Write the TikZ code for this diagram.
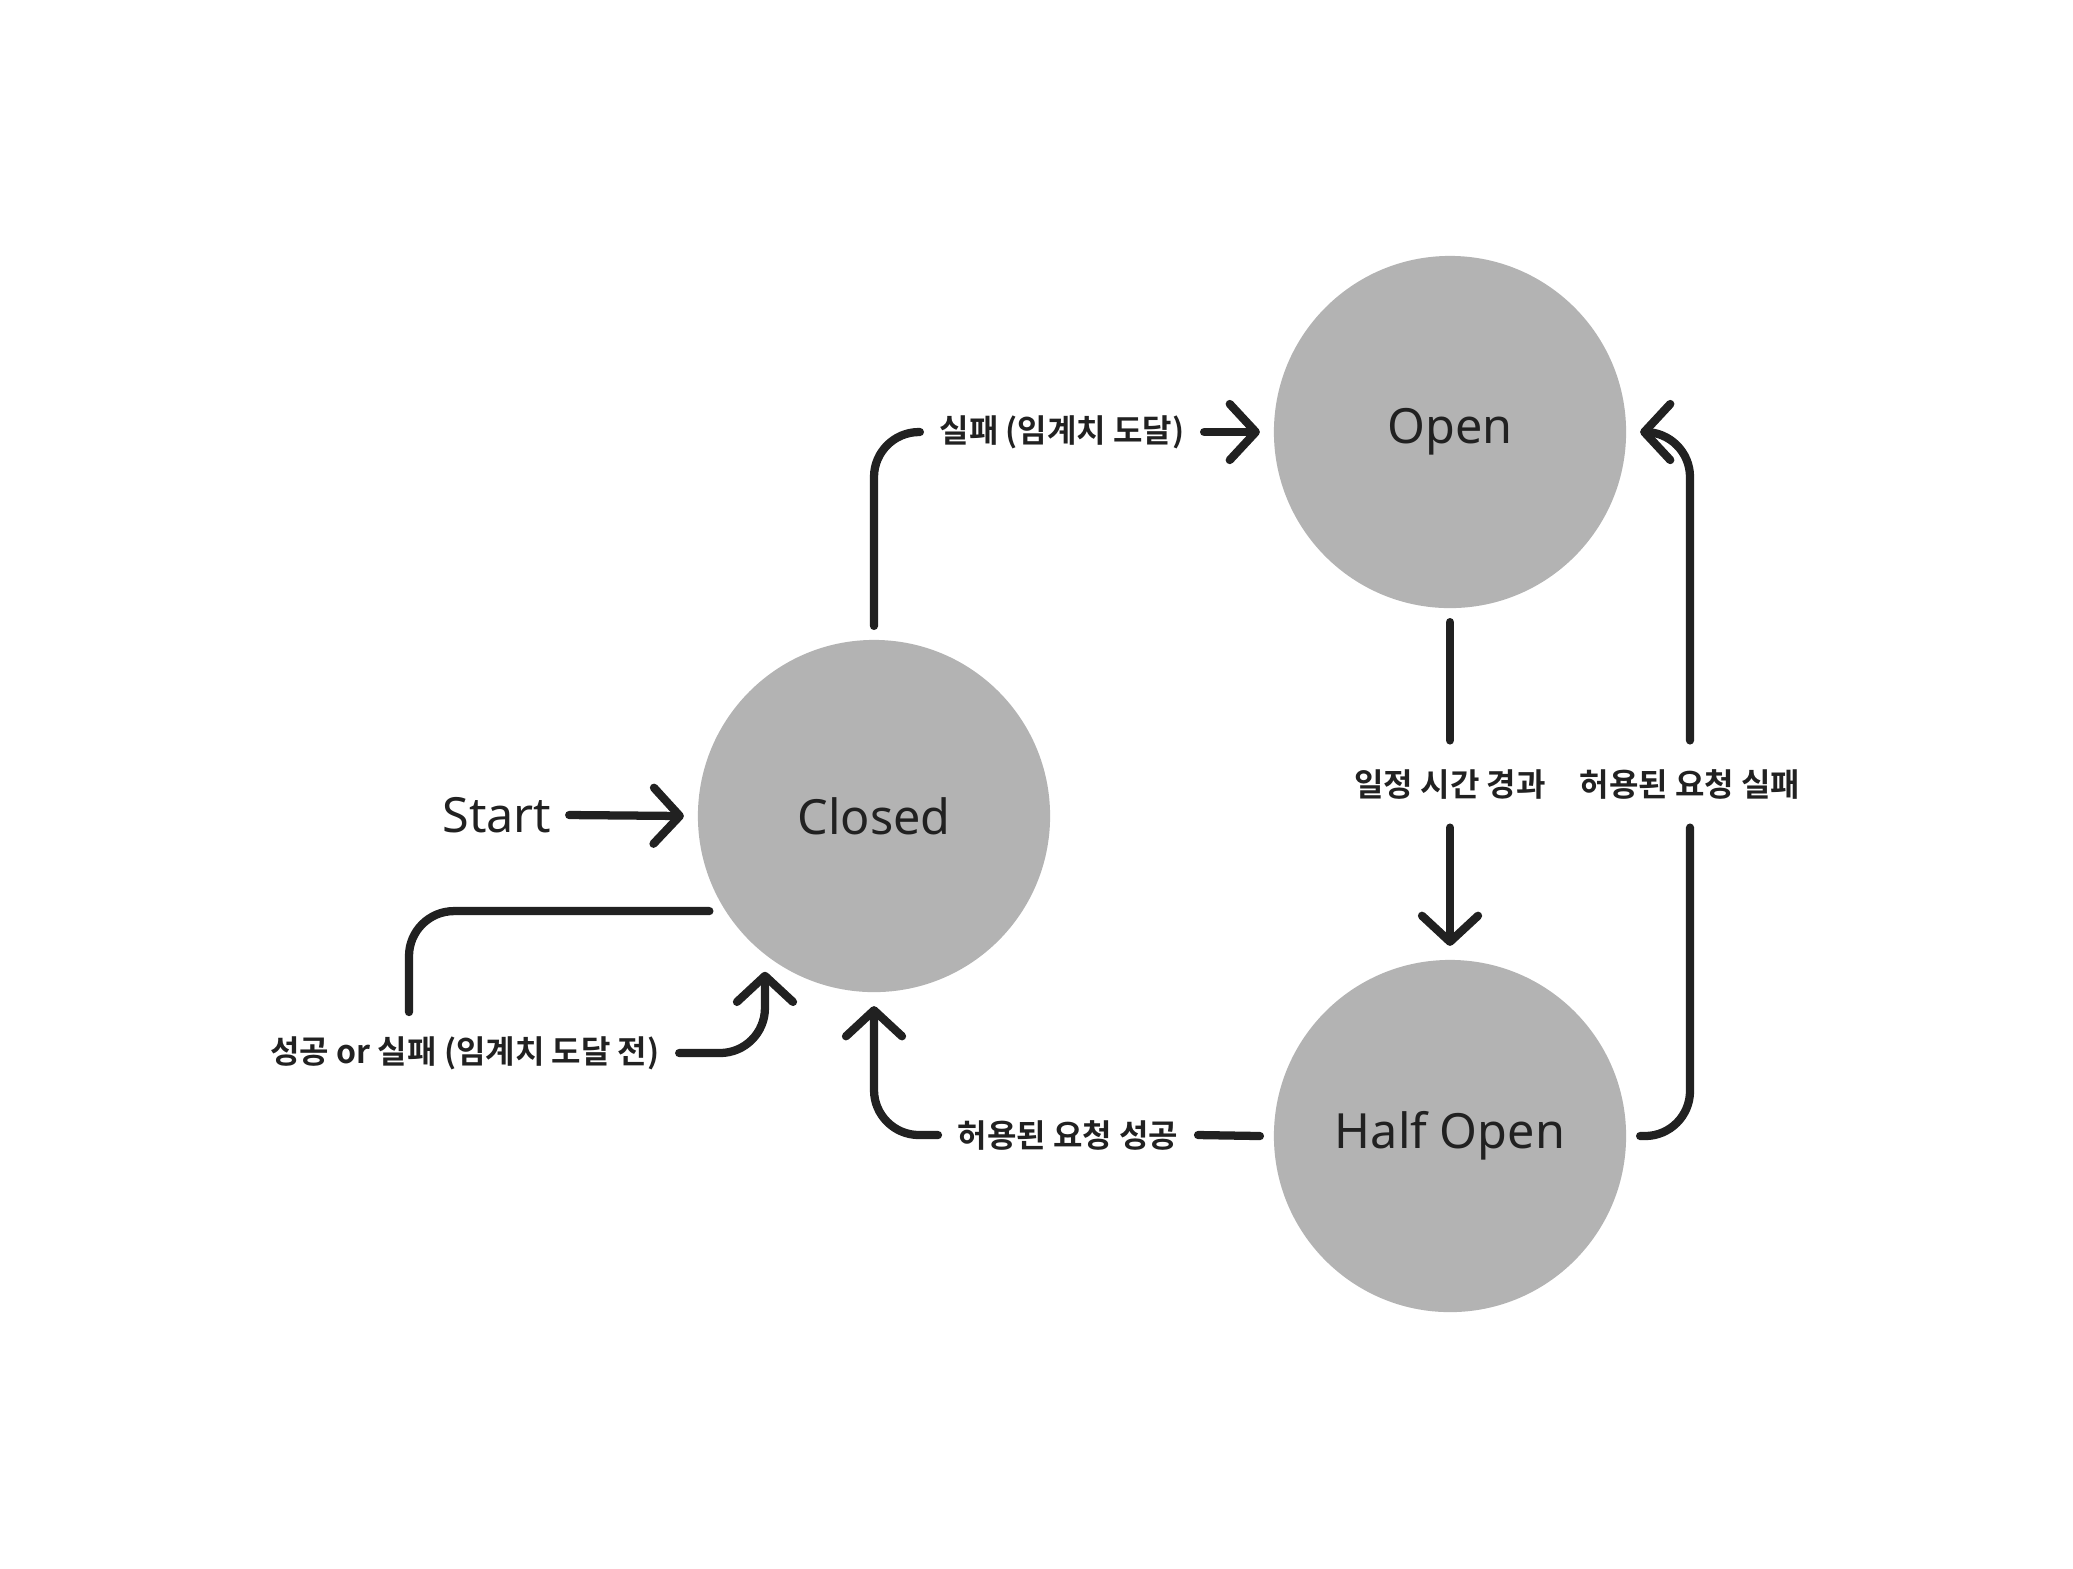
\documentclass[tikz,border=0pt]{standalone}
\usepackage{fontspec}
\setmainfont{Noto Sans}
\newfontfamily\krfont{Noto Sans CJK KR}[BoldFont={Noto Sans CJK KR Bold}]
\usetikzlibrary{arrows.meta}
\definecolor{stategray}{HTML}{B3B3B3}
\definecolor{ink}{HTML}{212121}

\begin{document}
\begin{tikzpicture}[x=0.01cm, y=-0.01cm,
	state/.style={circle, fill=stategray, minimum size=3.52cm, inner sep=0pt, outer sep=0.14cm,
		text=ink, font=\fontsize{13.8}{16}\selectfont},
	lbl/.style={inner xsep=0.19cm, inner ysep=0.28cm, text=ink,
		font=\krfont\bfseries\fontsize{9.1}{11}\selectfont},
	flow/.style={draw=ink, line width=2.35pt, line cap=round, rounded corners=0.45cm},
	tip/.style={-{Straight Barb[length=2.6mm, width=5.6mm, round]}}]
	\useasboundingbox (0,0) rectangle (2073,1568);
	\node[state] (closed) at (874,816) {Closed};
	\node[state] (open) at (1450,432) {Open};
	\node[state] (half) at (1450,1136) {Half Open};
	\node[text=ink, font=\fontsize{13.8}{16}\selectfont, inner xsep=0.17cm] (start) at (497,815) {Start};
	\node[lbl] (lfail) at (1062,432) {실패 (임계치 도달)};
	\node[lbl] (lwait) at (1450,784) {일정 시간 경과};
	\node[lbl] (lretry) at (1690,784) {허용된 요청 실패};
	\node[lbl] (lok) at (1068,1135) {허용된 요청 성공};
	\node[lbl] (lloop) at (465,1053) {성공 or 실패 (임계치 도달 전)};
	\coordinate (loopend) at (409,1012);
	%
	\draw [flow, tip] (start.east) to (closed.west);
	\draw [flow] (closed.north) |- (lfail.west);
	\draw [flow, tip] (lfail.east) to (open.west);
	\draw [flow] (open.south) to (lwait.north);
	\draw [flow, tip] (lwait.south) to (half.north);
	\draw [flow] (half.east) -| (lretry.south);
	\draw [flow, tip] (lretry.north) |- (open.east);
	\draw [flow] (half.west) to (lok.east);
	\draw [flow, tip] (lok.west) -| (closed.south);
	\draw [flow] (closed.210) -| (loopend);
	\draw [flow, tip] (lloop.east) -| (closed.235);
\end{tikzpicture}
\end{document}
